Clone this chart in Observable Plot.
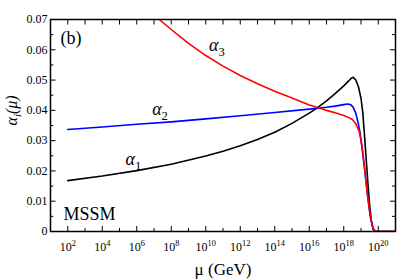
<!DOCTYPE html>
<html><head><meta charset="utf-8">
<script src="https://cdn.jsdelivr.net/npm/d3@7"></script>
<script src="https://cdn.jsdelivr.net/npm/@observablehq/plot@0.6"></script>
<style>body{margin:0;background:#fff;} svg{display:block;} svg text{font-family:"Liberation Serif","Times New Roman",serif !important; font-variant:normal !important;}
g[aria-label="y-axis tick label"] text, g[aria-label="x-axis tick label"] text{font-size:12px !important;}</style>
</head><body><div id="chart"></div>
<script>
// log10(mu / GeV) and alpha values
const a1Exp = [2, 4, 6, 8, 10, 11, 12, 13, 14, 15, 16, 16.5, 17, 17.5, 18, 18.3, 18.45, 18.55, 18.7, 18.85, 19.0, 19.1, 19.2, 19.3, 19.4, 19.5, 19.6, 19.7, 19.8, 21];
const a1Val = [0.0168, 0.0183, 0.0201, 0.0222, 0.0249, 0.0265, 0.0283, 0.0304, 0.0328, 0.0357, 0.0391, 0.0410, 0.0431, 0.0455, 0.0481, 0.0498, 0.0507, 0.0509, 0.0500, 0.0478, 0.0440, 0.0395, 0.0320, 0.0240, 0.0160, 0.0088, 0.0035, 0.0008, 0, 0];
const a2Exp = [2, 4, 6, 8, 10, 12, 14, 16, 17, 17.5, 18, 18.2, 18.4, 18.55, 18.7, 18.85, 18.95, 19.1, 19.25, 19.4, 19.55, 19.7, 19.8, 21];
const a2Val = [0.0337, 0.0345, 0.0354, 0.0362, 0.0372, 0.0382, 0.0393, 0.0404, 0.0410, 0.0414, 0.0419, 0.0421, 0.0419, 0.0410, 0.0390, 0.0355, 0.0325, 0.0258, 0.0185, 0.0110, 0.0045, 0.0010, 0, 0];
const a3Exp = [7.3, 8, 9, 10, 11, 12, 13, 14, 15, 16, 17, 17.5, 18, 18.3, 18.5, 18.7, 18.9, 19.0, 19.1, 19.2, 19.3, 19.4, 19.5, 19.6, 19.7, 19.8, 19.9, 21];
const a3Val = [0.0700, 0.0667, 0.0621, 0.0581, 0.0546, 0.0515, 0.0488, 0.0463, 0.0441, 0.0418, 0.0400, 0.0392, 0.0383, 0.0376, 0.0370, 0.0356, 0.0330, 0.0300, 0.0265, 0.0215, 0.0160, 0.0110, 0.0068, 0.0035, 0.0012, 0.0003, 0, 0];

const seriesNames = ["α_{1}", "α_{2}", "α_{3}"];
const seriesColors = ["#000000", "#0000ff", "#ff0000"];
// label anchor points (log10 mu, alpha)
const labelExp = [5.8, 7.35, 10.65];
const labelVal = [0.0240, 0.0405, 0.0615];

const xMajorExp = [2, 4, 6, 8, 10, 12, 14, 16, 18, 20];
const xMinorExp = [1, 3, 5, 7, 9, 11, 13, 15, 17, 19, 21];
const yMajor = [0, 0.01, 0.02, 0.03, 0.04, 0.05, 0.06, 0.07];
const yMinor = [0.005, 0.015, 0.025, 0.035, 0.045, 0.055, 0.065];
const panelTag = "(b)";
const modelTag = "MSSM";
const xTitle = "μ (GeV)";
const yTitle = "α_{i}(μ)";

const rows = [];
[[a1Exp, a1Val], [a2Exp, a2Val], [a3Exp, a3Val]].forEach(([e, v], k) => {
  e.forEach((ex, i) => rows.push({series: seriesNames[k], mu: Math.pow(10, ex), alpha: v[i]}));
});
const labels = seriesNames.map((n, i) => ({name: n, mu: Math.pow(10, labelExp[i]), alpha: labelVal[i]}));
const pow = e => Math.pow(10, e);
const allExp = xMajorExp.concat(xMinorExp);
const FONT = '"Liberation Serif","Times New Roman",serif';

const chart = Plot.plot({
  width: 399, height: 279,
  marginLeft: 50, marginRight: 4, marginTop: 19, marginBottom: 48,
  style: {fontFamily: FONT, background: "#fff", color: "#000"},
  x: {type: "log", domain: [10, 1e21]},
  y: {domain: [0, 0.07]},
  color: {domain: seriesNames, range: seriesColors},
  marks: [
    Plot.line(rows, {x: "mu", y: "alpha", z: "series", stroke: "series", strokeWidth: 1.6, clip: true}),
    Plot.text(labels, {x: "mu", y: "alpha", text: "name", fontSize: 18, fontStyle: "italic", textAnchor: "middle"}),
    Plot.text([panelTag], {frameAnchor: "top-left", dx: 10, dy: 19, fontSize: 18, textAnchor: "start", lineAnchor: "middle"}),
    Plot.text([modelTag], {frameAnchor: "bottom-left", dx: 13, dy: -17, fontSize: 18, textAnchor: "start", lineAnchor: "middle"}),
    Plot.text([xTitle], {frameAnchor: "bottom", dy: 38, fontSize: 17, lineAnchor: "middle"}),
    Plot.text([yTitle], {frameAnchor: "left", dx: -39, rotate: -90, fontSize: 16, fontStyle: "italic", lineAnchor: "middle"}),
    Plot.axisY(yMajor, {anchor: "left", tickSize: -5.5, tickPadding: 8.5, fontSize: 12, fontFamily: FONT, label: null,
      tickFormat: d => d === 0 ? "0" : d.toFixed(2)}),
    Plot.axisY(yMinor, {anchor: "left", tickSize: -3.3, fill: "none", label: null}),
    Plot.axisY(yMajor, {anchor: "right", tickSize: -6, fill: "none", label: null}),
    Plot.axisY(yMinor, {anchor: "right", tickSize: -4, fill: "none", label: null}),
    Plot.axisX(xMajorExp.map(pow), {anchor: "bottom", tickSize: -5, tickPadding: 15.5, fontSize: 12, fontFamily: FONT, label: null,
      tickFormat: d => "10^{" + Math.round(Math.log10(d)) + "}"}),
    Plot.axisX(xMinorExp.map(pow), {anchor: "bottom", tickSize: -3, fill: "none", label: null}),
    Plot.axisX(allExp.map(pow), {anchor: "top", tickSize: -4.5, fill: "none", label: null}),
    Plot.frame({stroke: "#000", strokeWidth: 1.5})
  ]
});
document.getElementById("chart").appendChild(chart);

function rich(el) {
  const s = el.textContent;
  if (!/[_^]\{/.test(s)) return;
  const fs = parseFloat(getComputedStyle(el).fontSize);
  const parts = s.split(/([_^]\{[^}]*\})/).filter(p => p !== "");
  while (el.firstChild) el.removeChild(el.firstChild);
  let shift = 0;
  for (const p of parts) {
    const t = document.createElementNS("http://www.w3.org/2000/svg", "tspan");
    let target = 0;
    if (p[1] === "{" && (p[0] === "^" || p[0] === "_")) {
      const body = p.slice(2, -1);
      target = p[0] === "^" ? -0.4 * fs : 0.3 * fs;
      t.setAttribute("font-size", 0.7 * fs);
      if (/^\d+$/.test(body)) t.setAttribute("font-style", "normal");
      t.textContent = body;
    } else { t.textContent = p; }
    t.setAttribute("dy", target - shift);
    shift = target;
    el.appendChild(t);
  }
}
d3.select(chart).selectAll("text").each(function() { rich(this); });
</script>
</body></html>
